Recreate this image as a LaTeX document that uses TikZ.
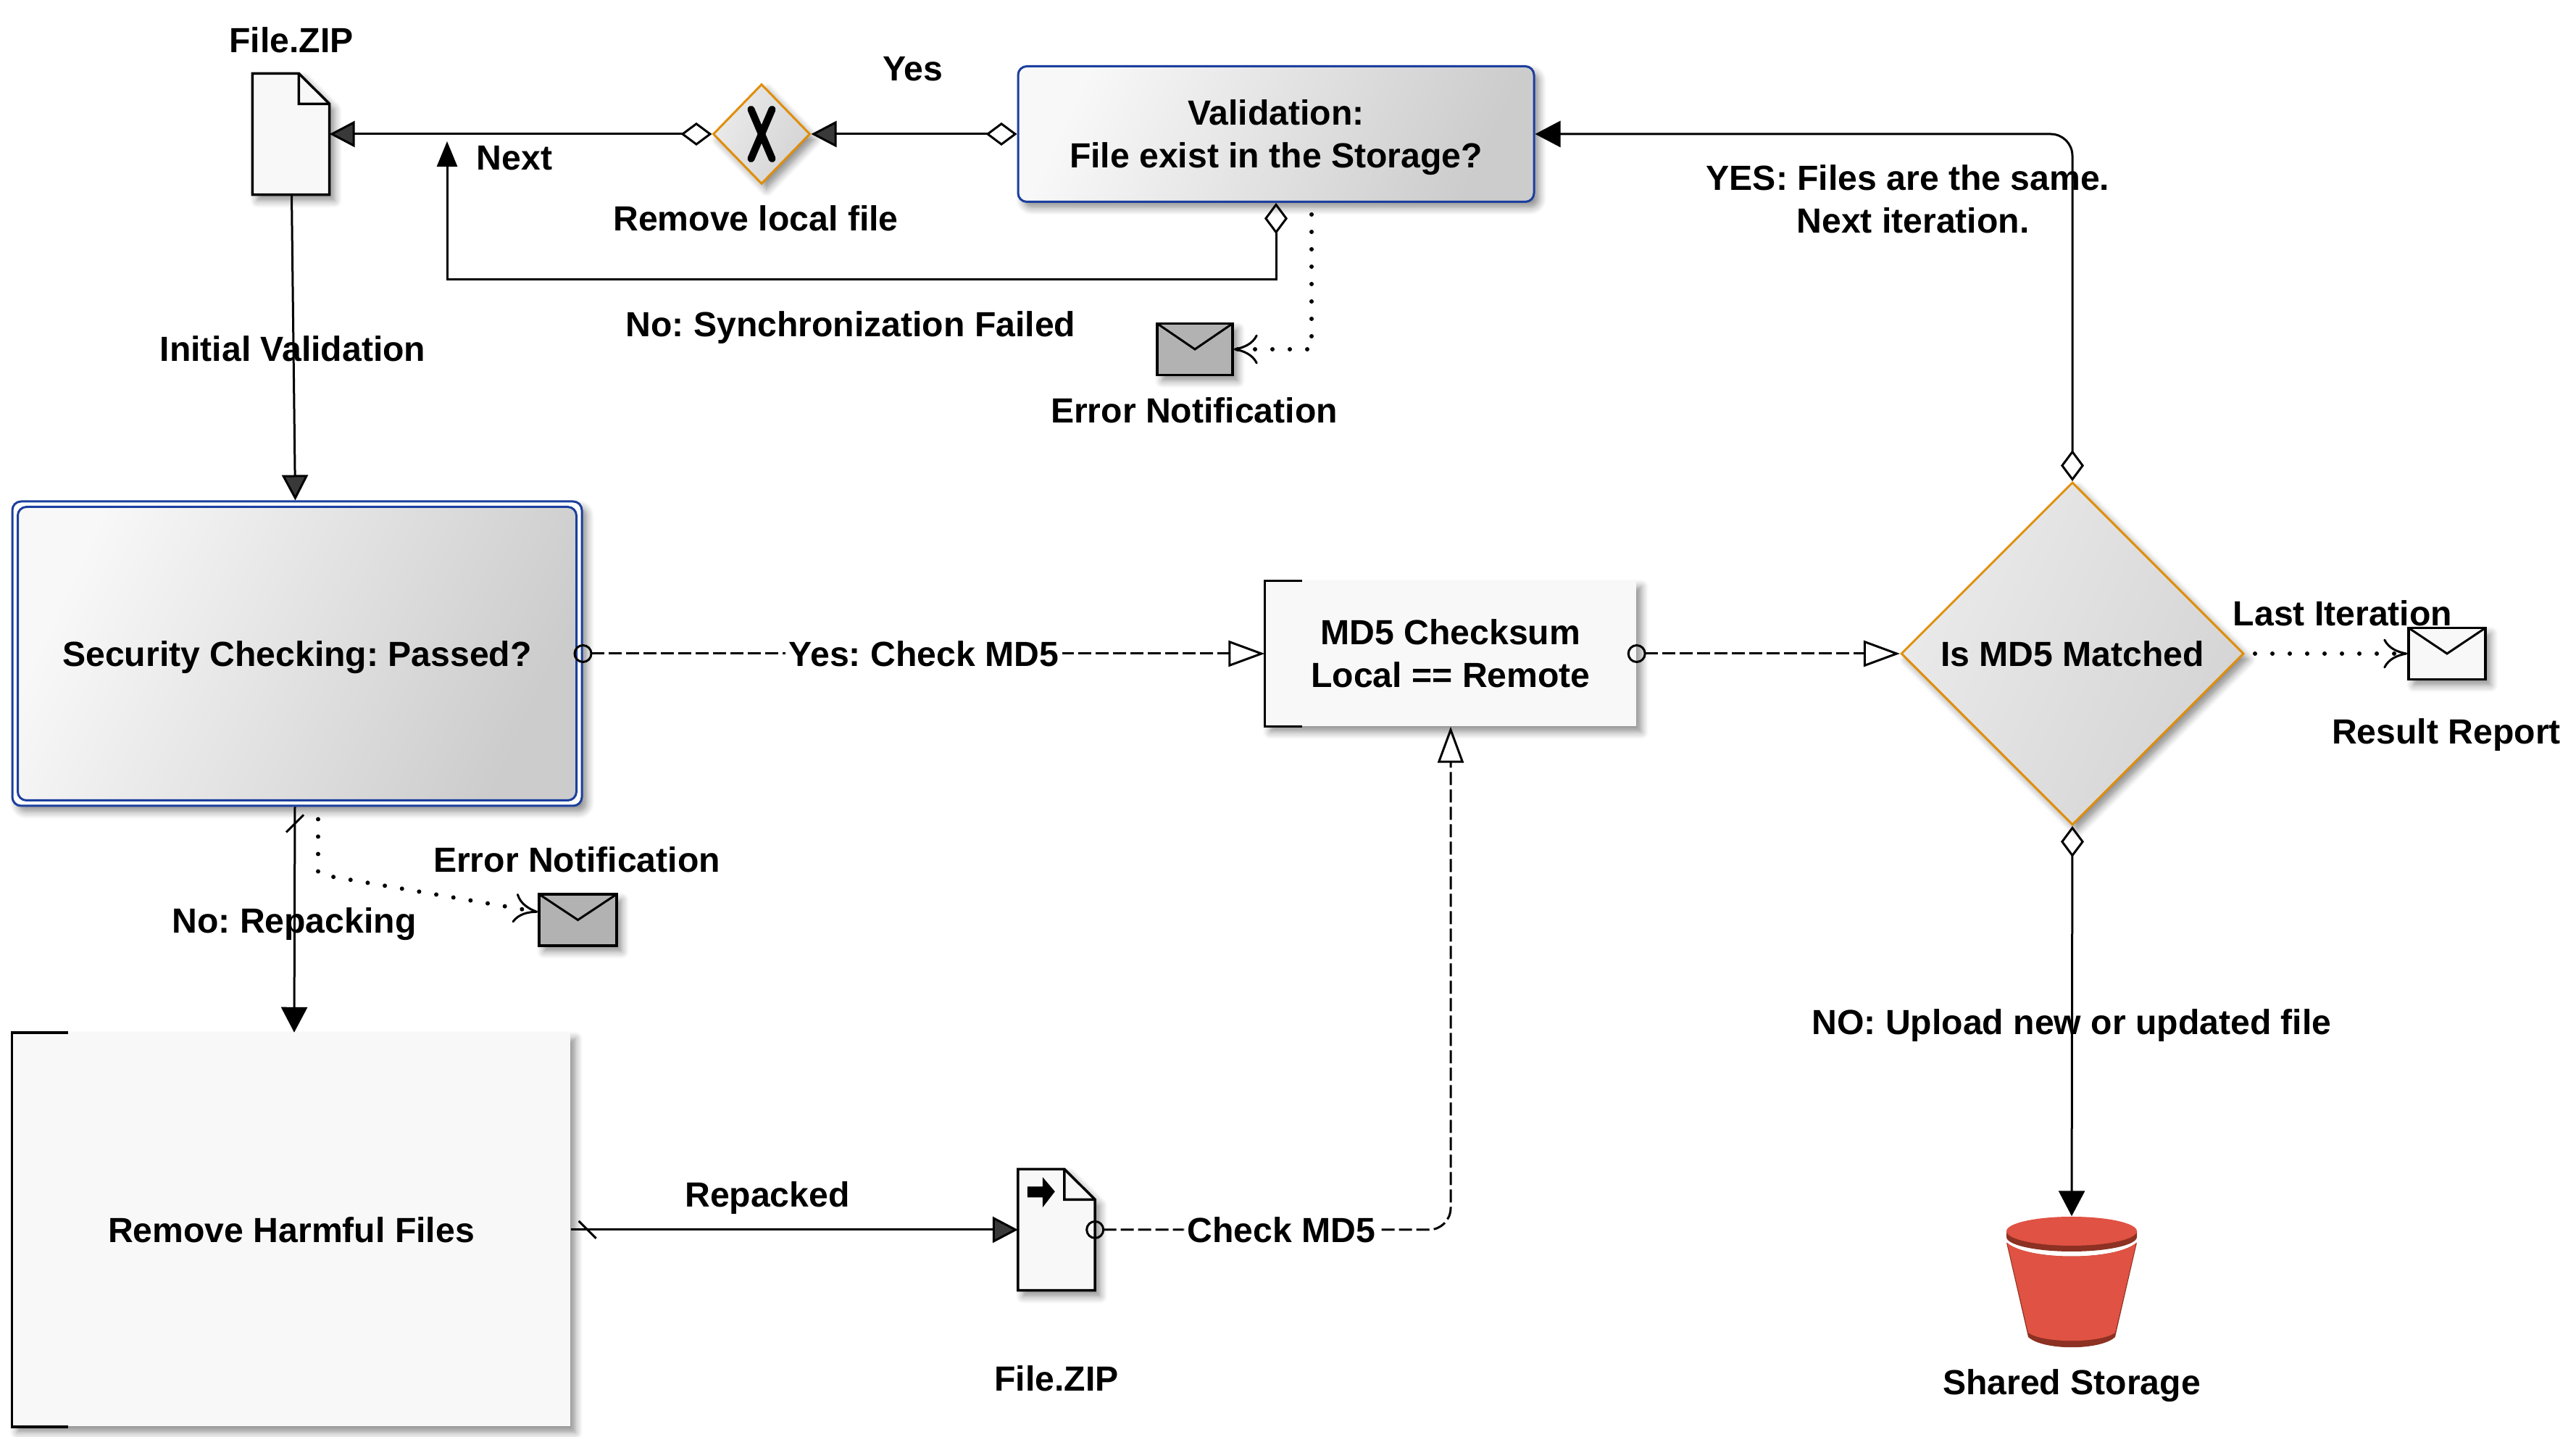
\documentclass[tikz,border=0pt]{standalone}
\usepackage{fontspec}
\setmainfont{Liberation Sans}
\usetikzlibrary{shapes.geometric,arrows.meta,shadows.blur}

\definecolor{docfill}{HTML}{F8F8F8}
\definecolor{bluedge}{HTML}{1C3F9E}
\definecolor{orangedge}{HTML}{E08E0B}
\definecolor{envgray}{HTML}{B2B2B2}
\definecolor{bucketlight}{HTML}{E05243}
\definecolor{bucketdark}{HTML}{8C3123}

\newcommand{\lblfont}{\fontsize{13.7}{16.8}\selectfont\bfseries\frenchspacing}

\tikzset{
  softshadow/.style={blur shadow={shadow xshift=.07cm,shadow yshift=-.08cm,shadow blur steps=6,shadow blur radius=.1cm,shadow opacity=45}},
  lbl/.style={font=\lblfont,align=center,inner sep=0pt,text depth=0pt},
  lblwhite/.style={lbl,fill=white,inner xsep=.05cm,inner ysep=.06cm},
  greyfill/.style={left color=docfill,right color=black!20,shading angle=65},
  roundbox/.style={lbl,shape=rectangle,draw=bluedge,line width=.03cm,rounded corners=.12cm,greyfill},
  plainbox/.style={lbl,shape=rectangle,fill=docfill,softshadow},
  decisionbox/.style={lbl,shape=diamond,shape aspect=1,draw=orangedge,line width=.03cm,left color=black!8,right color=black!17,shading angle=65,softshadow},
  envbox/.style={shape=rectangle,draw=black,line width=.035cm,inner sep=0pt,fill=docfill,minimum height=.71cm,softshadow,
    path picture={\draw[line width=.03cm] (path picture bounding box.north west) -- (path picture bounding box.center) -- (path picture bounding box.north east);}},
  docbox/.style={shape=rectangle,inner sep=0pt,minimum width=1.05cm,minimum height=1.66cm},
  conn/.style={draw=black,line width=.03cm},
  dashconn/.style={conn,dash pattern=on .18cm off .06cm},
  dotconn/.style={draw=black,line width=.06cm,line cap=round,dash pattern=on 0pt off .24cm,
    -{Computer Modern Rightarrow[length=.33cm,width=.41cm,line width=.03cm]}},
  shutarrow/.style={conn,-{Triangle[length=.35cm,width=.36cm]}},
  tailarrow/.style={conn,{Diamond[open,length=.43cm,width=.32cm]}-{Triangle[length=.35cm,width=.36cm]}},
  hollowarrow/.style={dashconn,{Circle[open,length=.26cm,width=.26cm]}-{Triangle[open,length=.5cm,width=.36cm]},shorten <=-.13cm},
}

% file icon with a folded corner, #1 name, #2 position
\newcommand{\docicon}[2]{
  \node[docbox] (#1) at (#2) {};
  \draw[line width=.035cm,fill=docfill,softshadow] (#1.north west) -- ([xshift=.64cm]#1.north west) -- ([yshift=-.42cm]#1.north east) -- (#1.south east) -- (#1.south west) -- cycle;
  \draw[line width=.035cm] ([xshift=.64cm]#1.north west) -- ([shift={(.64,-.42)}]#1.north west) -- ([yshift=-.42cm]#1.north east);
}

\begin{document}
\begin{tikzpicture}
\useasboundingbox (0,.02) rectangle (35.55,19.85);

% boxes
\docicon{filetop}{4.015,18.0}
\node[decisionbox,minimum width=1.34cm,minimum height=1.38cm] (gateway) at (10.51,18.0) {};
\node[roundbox,softshadow,minimum width=7.12cm,minimum height=1.87cm] (validation) at (17.61,18.0) {Validation:\\File exist in the Storage?};
\node[envbox,fill=envgray,minimum width=1.04cm] (errmaila) at (16.49,15.03) {};

\node[shape=rectangle,draw=bluedge,line width=.03cm,rounded corners=.12cm,fill=white,softshadow,minimum width=7.86cm,minimum height=4.2cm] (secouter) at (4.10,10.83) {};
\node[roundbox,minimum width=7.71cm,minimum height=4.05cm] (security) at (4.10,10.83) {Security Checking: Passed?};
\node[envbox,fill=envgray,minimum width=1.07cm] (errmailb) at (7.975,7.155) {};

\node[plainbox,minimum width=7.7cm,minimum height=5.43cm] (remove) at (4.02,2.88) {Remove Harmful Files};
\docicon{filebottom}{14.58,2.88}
\node[plainbox,minimum width=5.12cm,minimum height=2cm] (md5check) at (20.02,10.83) {MD5 Checksum\\Local == Remote};
\node[decisionbox,minimum width=4.73cm,minimum height=4.73cm] (matched) at (28.60,10.83) {Is MD5 Matched};
\node[envbox,minimum width=1.06cm] (resultmail) at (33.77,10.83) {};
\node[shape=rectangle,inner sep=0pt,minimum width=1.8cm,minimum height=1.8cm] (storage) at (28.59,2.16) {};

% marks inside the boxes
\draw[line width=.1cm,line cap=round] ([shift={(-.145,.34)}]gateway.center) -- ([shift={(.145,-.34)}]gateway.center);
\draw[line width=.1cm,line cap=round] ([shift={(.145,.34)}]gateway.center) -- ([shift={(-.145,-.34)}]gateway.center);
\fill ([shift={(.13,-.24)}]filebottom.north west) -- ([shift={(.34,-.24)}]filebottom.north west) -- ([shift={(.34,-.11)}]filebottom.north west) -- ([shift={(.51,-.31)}]filebottom.north west) -- ([shift={(.34,-.53)}]filebottom.north west) -- ([shift={(.34,-.39)}]filebottom.north west) -- ([shift={(.13,-.39)}]filebottom.north west) -- cycle;
\draw[line width=.035cm] ([xshift=.78cm]remove.north west) -- (remove.north west) -- (remove.south west) -- ([xshift=.78cm]remove.south west);
\draw[line width=.035cm] ([xshift=.52cm]md5check.north west) -- (md5check.north west) -- (md5check.south west) -- ([xshift=.52cm]md5check.south west);

% bucket
\begin{scope}[shift={(storage.center)}]
\fill[bucketdark] (-.9,.54) -- (-.6,-.76) .. controls (-.4,-.95) and (.4,-.95) .. (.6,-.76) -- (.9,.54) .. controls (.6,.29) and (-.6,.29) .. (-.9,.54) -- cycle;
\fill[bucketlight] (-.89,.54) -- (-.6,-.70) .. controls (-.4,-.85) and (.4,-.85) .. (.6,-.70) -- (.89,.54) .. controls (.6,.29) and (-.6,.29) .. (-.89,.54) -- cycle;
\fill[bucketdark] (-.9,.70) -- (-.9,.62) arc[start angle=180,end angle=360,x radius=.9,y radius=.2] -- (.9,.70) -- cycle;
\fill[bucketlight] (0,.70) ellipse[x radius=.9,y radius=.2];
\end{scope}

% connectors
\coordinate (nextbend) at (6.17,15.99);
\coordinate (nexttip) at (6.17,17.90);
\coordinate (errbenda) at (18.10,15.03);
\coordinate (errbendb) at (4.42,7.78);

\path [tailarrow] (validation) edge node {} (gateway);
\path [tailarrow] (gateway) edge node {} (filetop);
\draw [conn,{Diamond[open,length=.43cm,width=.32cm]}-{Triangle[length=.35cm,width=.28cm]}] (validation.south) |- (nextbend) -- (nexttip);
\draw [dotconn,shorten <=.16cm] ([xshift=.49cm]validation.south) -- (errbenda) -- (errmaila.east);
\path [shutarrow] (filetop) edge node {} (secouter);
\path [hollowarrow] (secouter) edge node[lblwhite] {Yes: Check MD5} (md5check);
\path [hollowarrow] (md5check) edge node {} (matched);
\draw [tailarrow,rounded corners=.3cm] (matched.north) |- (validation.east);
\draw [dotconn,shorten <=.14cm] (matched.east) -- (resultmail.west);
\draw [tailarrow] (matched.south) -- (storage.north);
\draw [shutarrow] ([xshift=-.03cm]secouter.south) -- ([xshift=.04cm]remove.north);
\draw [dotconn,shorten <=.17cm] ([xshift=.29cm]secouter.south) -- ([xshift=.29cm,yshift=-.9cm]secouter.south) -- (errbendb) -- ([yshift=.11cm]errmailb.west);
\path [shutarrow] (remove) edge node {} (filebottom);
\draw [hollowarrow,rounded corners=.3cm] (filebottom.east) -| node[lblwhite,pos=.262] {Check MD5} (md5check.south);

% tick marks
\draw[conn] ([shift={(-.15,-.35)}]secouter.south) -- ([shift={(.09,-.11)}]secouter.south);
\draw[conn] ([shift={(.11,.12)}]remove.east) -- ([shift={(.35,-.12)}]remove.east);

% labels
\begin{scope}[yshift=.02cm]
\node[lbl] (fileziptop) at (4.02,19.28) {File.ZIP};
\node[lbl] (yestop) at (12.60,18.88) {Yes};
\node[lbl] (nextlbl) at (7.10,17.65) {Next};
\node[lbl] (removelocal) at (10.43,16.82) {Remove local file};
\node[lbl] (syncfail) at (11.74,15.36) {No: Synchronization Failed};
\node[lbl] (errnotea) at (16.48,14.17) {Error Notification};
\node[lbl] (initval) at (4.04,15.02) {Initial Validation};
\node[lbl] (errnoteb) at (7.96,7.97) {Error Notification};
\node[lbl] (repacking) at (4.06,7.13) {No: Repacking};
\node[lbl] (repacked) at (10.59,3.35) {Repacked};
\node[lbl] (filezipbottom) at (14.58,.81) {File.ZIP};
\node[lbl] (lastiter) at (32.33,11.37) {Last Iteration};
\node[lbl] (resultrep) at (33.76,9.74) {Result Report};
\node[lbl] (yessame) at (26.33,17.085) {YES: Files are the same.\\\hspace*{.14cm}Next iteration.};
\node[lbl] (noupload) at (28.59,5.73) {NO: Upload new or updated file};
\node[lbl] (sharedlbl) at (28.59,.76) {Shared Storage};
\end{scope}
\end{tikzpicture}
\end{document}
